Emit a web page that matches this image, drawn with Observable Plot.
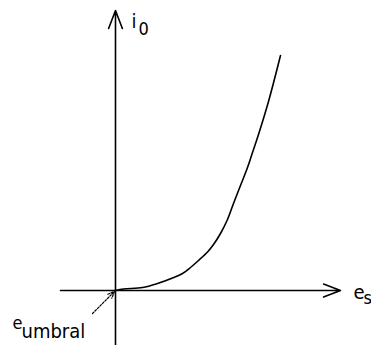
<!DOCTYPE html>
<html>
<head>
<meta charset="utf-8">
<script src="https://cdn.jsdelivr.net/npm/d3@7"></script>
<script src="https://cdn.jsdelivr.net/npm/@observablehq/plot@0.6"></script>
<style>
  html, body { margin: 0; padding: 0; background: #fff; }
</style>
</head>
<body>
<div id="chart"></div>
<script>
// Curve: drain current i0 versus gate voltage es (schematic units)
const curveX = [0, 8, 27, 42, 57, 67, 75, 83, 92, 98, 105, 112, 118, 125, 132, 137, 143, 153, 165];
const curveY = [0, 1.5, 3, 7, 12.5, 17, 23, 30, 38.5, 46, 57, 71, 87, 105, 123, 138, 156, 189, 235];

// Axis extents
const xAxisRange = [-55, 225];
const yAxisRange = [-60, 280];

// Labels
const yLabel = ["i", "0"];
const xLabel = ["e", "s"];
const thresholdLabel = ["e", "umbral"];
const thresholdPoint = [0, 0];

const curve = curveX.map((x, i) => ({x, y: curveY[i]}));
const font = "'DejaVu Sans Condensed', 'DejaVu Sans', sans-serif";

const chart = Plot.plot({
  width: 371,
  height: 345,
  margin: 0,
  style: {background: "#fff", fontFamily: font},
  x: {domain: [-115, 256], range: [0, 371], axis: null},
  y: {domain: [-55, 290], range: [345, 0], axis: null},
  marks: [
    // horizontal axis
    Plot.arrow([{x1: xAxisRange[0], y1: 0, x2: xAxisRange[1], y2: 0}], {
      x1: "x1", y1: "y1", x2: "x2", y2: "y2",
      stroke: "#000", strokeWidth: 1.6, headLength: 17, headAngle: 42
    }),
    // vertical axis
    Plot.arrow([{x1: 0, y1: yAxisRange[0], x2: 0, y2: yAxisRange[1]}], {
      x1: "x1", y1: "y1", x2: "x2", y2: "y2",
      stroke: "#000", strokeWidth: 1.6, headLength: 18, headAngle: 42
    }),
    // curve
    Plot.line(curve, {x: "x", y: "y", curve: "catmull-rom", stroke: "#000", strokeWidth: 1.6}),
    // threshold pointer
    Plot.arrow([{x1: thresholdPoint[0] - 23, y1: thresholdPoint[1] - 23, x2: thresholdPoint[0] - 1, y2: thresholdPoint[1] - 1}], {
      x1: "x1", y1: "y1", x2: "x2", y2: "y2",
      stroke: "#000", strokeWidth: 1.2, strokeDasharray: "2,1.5", headLength: 9, headAngle: 45
    }),
    // y label i0
    Plot.text([yLabel[0]], {x: () => 16, y: () => 263, text: d => d, textAnchor: "start", lineAnchor: "bottom", fontSize: 20, fill: "#000"}),
    Plot.text([yLabel[1]], {x: () => 23, y: () => 256, text: d => d, textAnchor: "start", lineAnchor: "bottom", fontSize: 18, fill: "#000"}),
    // x label es
    Plot.text([xLabel[0]], {x: () => 238, y: () => -8, text: d => d, textAnchor: "start", lineAnchor: "bottom", fontSize: 20, fill: "#000"}),
    Plot.text([xLabel[1]], {x: () => 248, y: () => -13, text: d => d, textAnchor: "start", lineAnchor: "bottom", fontSize: 18, fill: "#000"}),
    // threshold label e_umbral
    Plot.text([thresholdLabel[0]], {x: () => -103, y: () => -38, text: d => d, textAnchor: "start", lineAnchor: "bottom", fontSize: 18, fill: "#000"}),
    Plot.text([thresholdLabel[1]], {x: () => -94, y: () => -47, text: d => d, textAnchor: "start", lineAnchor: "bottom", fontSize: 20, fill: "#000"})
  ]
});
document.getElementById("chart").appendChild(chart);
</script>
</body>
</html>
